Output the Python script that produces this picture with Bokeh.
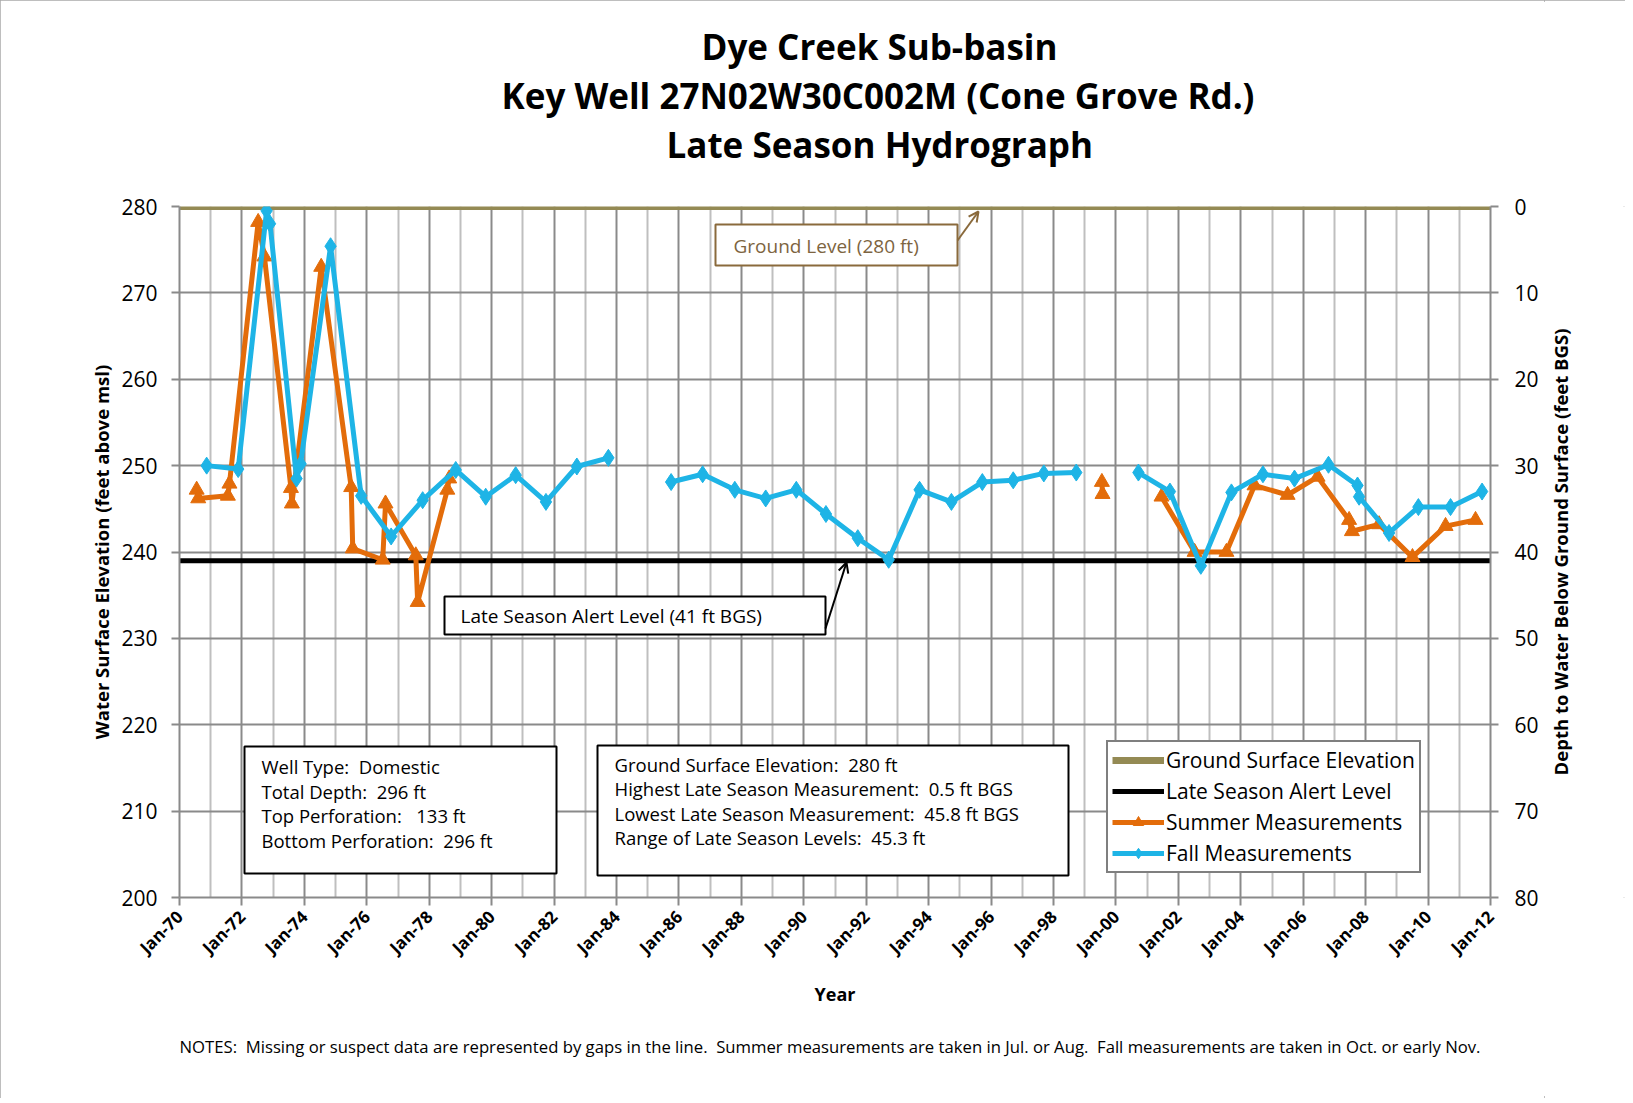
import math
import numpy as np
from bokeh.plotting import figure
from bokeh.layouts import row
from bokeh.models import (Range1d, LinearAxis, FixedTicker, Label, BoxAnnotation,
                          Arrow, OpenHead, Legend, LegendItem, ColumnDataSource, Title)
from bokeh.embed import file_html
from bokeh.resources import INLINE

nan = float("nan")

# ---------------- data ----------------
title_lines = ["Dye Creek Sub-basin",
               "Key Well 27N02W30C002M (Cone Grove Rd.)",
               "Late Season Hydrograph"]

x_major = [1970, 1972, 1974, 1976, 1978, 1980, 1982, 1984, 1986, 1988, 1990,
           1992, 1994, 1996, 1998, 2000, 2002, 2004, 2006, 2008, 2010, 2012]
x_minor = [1971, 1973, 1975, 1977, 1979, 1981, 1983, 1985, 1987, 1989, 1991,
           1993, 1995, 1997, 1999, 2001, 2003, 2005, 2007, 2009, 2011]
x_tick_labels = ["Jan-70", "Jan-72", "Jan-74", "Jan-76", "Jan-78", "Jan-80",
                 "Jan-82", "Jan-84", "Jan-86", "Jan-88", "Jan-90", "Jan-92",
                 "Jan-94", "Jan-96", "Jan-98", "Jan-00", "Jan-02", "Jan-04",
                 "Jan-06", "Jan-08", "Jan-10", "Jan-12"]
elev_ticks = [200, 210, 220, 230, 240, 250, 260, 270, 280]
depth_ticks = [0, 10, 20, 30, 40, 50, 60, 70, 80]

ground_surface_elev = 280.0
alert_depth_bgs = 41.0

fall_year = [1970.87, 1971.88, 1972.79, 1972.90, 1973.75, 1973.88, 1974.84,
             1975.82, 1976.78, 1977.79, 1978.85, 1979.81, 1980.77, 1981.74,
             1982.73, 1983.74, nan,
             1985.75, 1986.76, 1987.79, 1988.78, 1989.76, 1990.71, 1991.73,
             1992.72, 1993.71, 1994.73, 1995.72, 1996.71, 1997.69, 1998.73, nan,
             2000.72, 2001.73, 2002.72, 2003.70, 2004.71, 2005.72, 2006.81,
             2007.74, 2007.79, 2008.75, 2009.69, 2010.72, 2011.73]
fall_elev = [250.0, 249.6, 279.5, 278.0, 248.5, 250.2, 275.4,
             246.5, 241.8, 246.0, 249.5, 246.4, 248.9, 245.8,
             249.9, 250.9, nan,
             248.1, 249.0, 247.2, 246.2, 247.2, 244.4, 241.6,
             239.1, 247.2, 245.8, 248.1, 248.3, 249.1, 249.2, nan,
             249.2, 247.0, 238.4, 246.9, 249.0, 248.5, 250.1,
             247.7, 246.4, 242.2, 245.2, 245.2, 247.0]

summer_year = [1970.55, 1970.60, 1971.55, 1971.60, 1972.52, 1972.72, 1973.57,
               1973.60, 1974.54, 1975.50, 1975.55, 1976.51, 1976.60, 1977.57,
               1977.63, 1978.58, 1978.64, nan,
               1999.55, 1999.57, nan,
               2001.46, 2002.52, 2003.54, 2004.44, 2005.50, 2006.46, 2007.47,
               2007.56, 2008.43, 2009.50, 2010.56, 2011.52]
summer_elev = [247.2, 246.2, 246.5, 247.9, 278.2, 274.2, 247.4,
               245.6, 273.0, 247.5, 240.4, 239.1, 245.6, 239.6,
               234.2, 247.2, 248.5, nan,
               248.1, 246.7, nan,
               246.4, 240.0, 240.0, 247.7, 246.6, 248.7, 243.7,
               242.4, 243.2, 239.4, 243.0, 243.7]

NB = "\u00a0"
well_info = ["Well Type:" + NB + " Domestic", "Total Depth:" + NB + " 296 ft",
             "Top Perforation:" + NB + NB + " 133 ft", "Bottom Perforation:" + NB + " 296 ft"]
stats_info = ["Ground Surface Elevation:" + NB + " 280 ft",
              "Highest Late Season Measurement:" + NB + " 0.5 ft BGS",
              "Lowest Late Season Measurement:" + NB + " 45.8 ft BGS",
              "Range of Late Season Levels:" + NB + " 45.3 ft"]
notes_text = ("NOTES:" + NB + " Missing or suspect data are represented by gaps in the line." + NB + " "
              "Summer measurements are taken in Jul. or Aug." + NB + " "
              "Fall measurements are taken in Oct. or early Nov.")
left_axis_title = "Water Surface Elevation (feet above msl)"
right_axis_title = "Depth to Water Below Ground Surface (feet BGS)"
x_axis_title = "Year"

# ---------------- layout helpers ----------------
X0, X1 = 1970, 2012
Y0, Y1 = 200, 280
W, H = 1625, 1098
WP = 1544                                # width of the main figure
FL, FT, FW, FH = 179, 206, 1311, 691   # frame in page pixels


def dx(px):
    return X0 + (px - FL) * (X1 - X0) / FW


def dy(py):
    return Y1 - (py - FT) * (Y1 - Y0) / FH


FONT = "Open Sans"
BLUE = "#1EB4E6"
ORANGE = "#E36C0A"
OLIVE = "#948A54"
BROWN = "#8A6A3C"
GRID_D = "#8A8A8A"
GRID_L = "#BFBFBF"

p = figure(frame_width=FW, frame_height=FH,
           min_border_left=FL, min_border_right=WP - FL - FW,
           min_border_top=FT, min_border_bottom=H - FT - FH,
           x_range=Range1d(X0, X1), y_range=Range1d(Y0, Y1),
           output_backend="svg", toolbar_location=None,
           background_fill_color="white", border_fill_color="white")
p.outline_line_color = None

x_axis = p.xaxis[0]
left_axis = p.yaxis[0]

# axes
x_axis.ticker = FixedTicker(ticks=x_major, minor_ticks=x_minor)
x_axis.major_label_overrides = {t: l for t, l in zip(x_major, x_tick_labels)}
x_axis.major_label_orientation = math.pi / 4
x_axis.major_label_text_font_style = "bold"
x_axis.major_label_text_font_size = "17px"
left_axis.ticker = FixedTicker(ticks=elev_ticks)
left_axis.major_label_text_font_size = "21px"

p.extra_y_ranges = {"depth": Range1d(start=depth_ticks[-1], end=depth_ticks[0])}
right_axis = LinearAxis(y_range_name="depth", ticker=FixedTicker(ticks=depth_ticks))
right_axis.major_label_text_font_size = "21px"
p.add_layout(right_axis, "right")

for ax in [x_axis, left_axis, right_axis]:
    ax.axis_line_color = GRID_D
    ax.axis_line_width = 2
    ax.major_tick_line_color = GRID_D
    ax.major_tick_line_width = 2
    ax.major_tick_in = 0
    ax.major_tick_out = 8
    ax.minor_tick_line_color = None
    ax.major_label_text_font = FONT
    ax.major_label_text_color = "black"
    ax.major_label_standoff = 8
    ax.axis_label_text_font = FONT
    ax.axis_label_text_font_style = "bold"
    ax.axis_label_text_color = "black"

left_axis.major_label_standoff = 14
right_axis.major_label_standoff = 16

x_axis.axis_label = x_axis_title
x_axis.axis_label_text_font_size = "18px"
x_axis.axis_label_standoff = 12
left_axis.axis_label = left_axis_title
left_axis.axis_label_text_font_size = "18.5px"
left_axis.axis_label_standoff = 4

# grids
p.xgrid.grid_line_color = GRID_D
p.xgrid.grid_line_width = 2
p.xgrid.minor_grid_line_color = GRID_L
p.xgrid.minor_grid_line_width = 2
p.ygrid.grid_line_color = GRID_D
p.ygrid.grid_line_width = 2

# reference lines
ground_src = ColumnDataSource(dict(x=[X0, X1], y=[ground_surface_elev] * 2))
alert_src = ColumnDataSource(dict(x=[X0, X1], y=[ground_surface_elev - alert_depth_bgs] * 2))
r_ground = p.line("x", "y", source=ground_src, line_color=OLIVE, line_width=7)
r_alert = p.line("x", "y", source=alert_src, line_color="black", line_width=5)

# series
summer_src = ColumnDataSource(dict(x=np.array(summer_year), y=np.array(summer_elev)))
fall_src = ColumnDataSource(dict(x=np.array(fall_year), y=np.array(fall_elev)))
r_sl = p.line("x", "y", source=summer_src, line_color=ORANGE, line_width=5)
r_ss = p.scatter("x", "y", source=summer_src, marker="triangle", size=15,
                 fill_color=ORANGE, line_color=ORANGE)
r_fl = p.line("x", "y", source=fall_src, line_color=BLUE, line_width=5)
r_fs = p.scatter("x", "y", source=fall_src, marker="diamond", size=17,
                 fill_color=BLUE, line_color=BLUE)

# legend
legend = Legend(items=[
    LegendItem(label="Ground Surface Elevation", renderers=[r_ground]),
    LegendItem(label="Late Season Alert Level", renderers=[r_alert]),
    LegendItem(label="Summer Measurements", renderers=[r_sl, r_ss]),
    LegendItem(label="Fall Measurements", renderers=[r_fl, r_fs]),
], location=(1106 - FL, FT + FH - 873))
legend.border_line_color = "black"
legend.border_line_width = 2
legend.background_fill_alpha = 1
legend.label_text_font = FONT
legend.label_text_font_size = "21px"
legend.label_text_color = "black"
legend.glyph_width = 52
legend.glyph_height = 26
legend.label_height = 26
legend.spacing = 3
legend.padding = 4
legend.margin = 0
legend.label_standoff = 2
p.add_layout(legend)


# boxes
def box(l, t, r, b, color="black"):
    p.add_layout(BoxAnnotation(left=dx(l), right=dx(r), top=dy(t), bottom=dy(b),
                               fill_color="white", fill_alpha=1,
                               line_color=color, line_width=2, line_alpha=1))


def text(px, py, s, size="19px", color="black", align="left", style="normal", angle=0):
    p.add_layout(Label(x=dx(px), y=dy(py), text=s, text_font=FONT,
                       text_font_size=size, text_color=color, text_align=align,
                       text_baseline="middle", text_font_style=style, angle=angle))


box(715, 224, 957, 265, BROWN)
text(733, 245, "Ground Level (280 ft)", "19px", "#7D6440")
p.add_layout(Arrow(end=OpenHead(size=10, line_color=BROWN, line_width=2),
                   x_start=dx(957), y_start=dy(240), x_end=dx(978), y_end=dy(211),
                   line_color=BROWN, line_width=2))

box(444, 596, 825, 634)
text(460, 615, "Late Season Alert Level (41 ft BGS)", "19px")
p.add_layout(Arrow(end=OpenHead(size=10, line_color="black", line_width=2),
                   x_start=dx(825), y_start=dy(628), x_end=dx(846), y_end=dy(562),
                   line_color="black", line_width=2))

box(244, 746, 556, 873)
for i, s in enumerate(well_info):
    text(261, 766 + 24.5 * i, s, "18.5px")

box(597, 745, 1068, 875)
for i, s in enumerate(stats_info):
    text(614, 764 + 24.3 * i, s, "18.5px")

# titles (stacked outward from the frame; a thin spacer first)
p.add_layout(Title(text=NB, text_font_size="2px", standoff=35), "above")
title_offsets = [522, 322, 487]
title_standoffs = [0, 0, 0]
for i in [2, 1, 0]:
    p.add_layout(Title(text=title_lines[i], align="left", offset=title_offsets[i],
                       standoff=title_standoffs[i], text_font=FONT,
                       text_font_size="35px", text_font_style="bold",
                       text_color="black"), "above")

p.add_layout(Title(text=notes_text, align="left", offset=0, standoff=48,
                   text_font=FONT, text_font_size="16.7px", text_font_style="normal",
                   text_color="black"), "below")

# narrow side figure carrying the right-hand axis title (reads bottom-to-top)
p2 = figure(width=W - WP, height=H, min_border_left=0, min_border_right=0,
            min_border_top=FT, min_border_bottom=H - FT - FH,
            x_range=Range1d(0, 1), y_range=Range1d(Y0, Y1),
            output_backend="svg", toolbar_location=None,
            background_fill_color="white", border_fill_color="white")
p2.outline_line_color = None
p2.xaxis.visible = False
p2.grid.visible = False
side_axis = p2.yaxis[0]
side_axis.ticker = FixedTicker(ticks=[])
side_axis.axis_line_color = None
side_axis.major_tick_out = 0
side_axis.minor_tick_line_color = None
side_axis.axis_label = right_axis_title
side_axis.axis_label_standoff = 0
side_axis.axis_label_text_font = FONT
side_axis.axis_label_text_font_style = "bold"
side_axis.axis_label_text_font_size = "18.5px"
side_axis.axis_label_text_color = "black"

layout = row(p, p2, spacing=0)
layout.styles = {"outline": "2px solid #A8A8A8", "outline-offset": "-2px"}

open("out.html", "w").write(file_html(layout, INLINE))
